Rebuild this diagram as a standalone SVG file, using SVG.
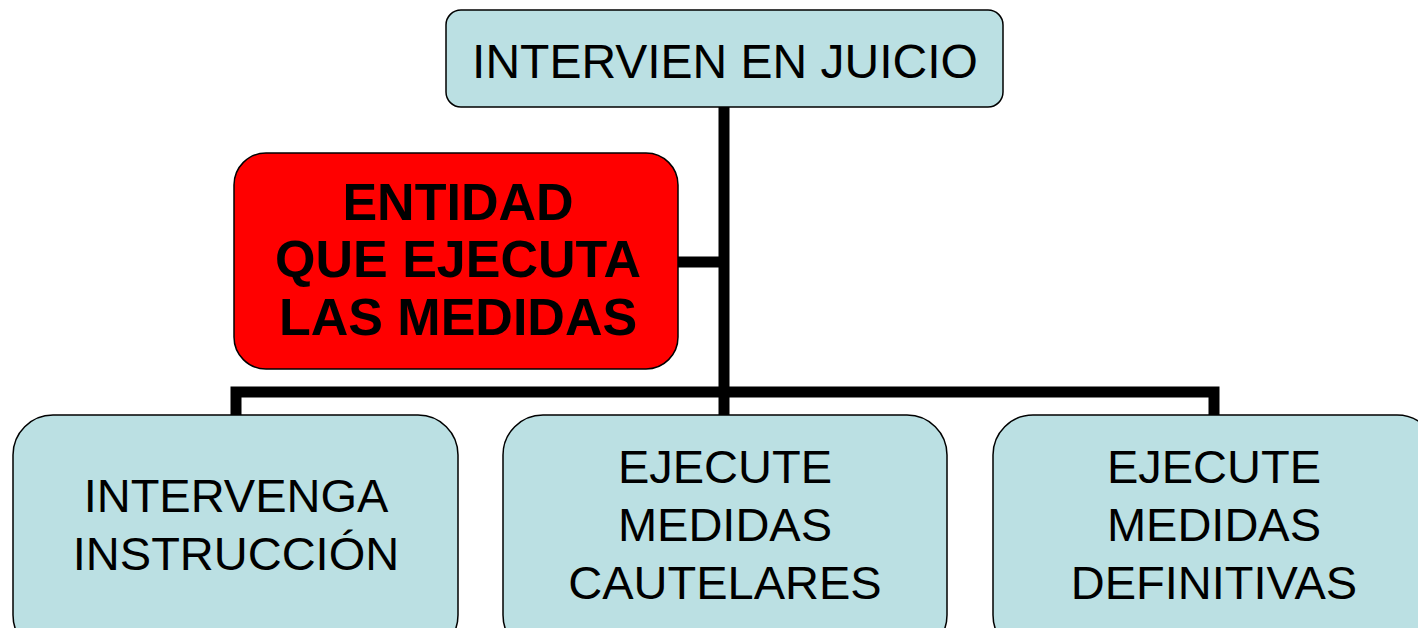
<svg xmlns="http://www.w3.org/2000/svg" width="1418" height="628" viewBox="0 0 1418 628">
<style>
.box{fill:#BBE0E3;stroke:#000;stroke-width:1.5}
.red{fill:#FF0000;stroke:#000;stroke-width:1.5}
.t{font-family:"Liberation Sans",Arial,sans-serif;font-size:47px;fill:#000;text-anchor:middle}
.tb{font-family:"Liberation Sans",Arial,sans-serif;font-size:52px;font-weight:bold;fill:#000;text-anchor:middle}
.c{fill:none;stroke:#000;stroke-width:11;stroke-linejoin:miter}
</style>
<rect width="1418" height="628" fill="#fff"/>
<g id="connectors">
<path class="c" d="M724,107 V392"/>
<path class="c" d="M678,262 H724"/>
<path class="c" d="M236,415 V392 H1214 V415"/>
<path class="c" d="M724,392 V415"/>
</g>
<g id="n-top">
<rect class="box" x="446" y="10" width="557" height="97" rx="15"/>
<text class="t" x="725" y="78" style="font-size:48px">INTERVIEN EN JUICIO</text>
</g>
<g id="n-entidad">
<rect class="red" x="234" y="153" width="444" height="216" rx="32"/>
<text class="tb" x="458" y="220">ENTIDAD</text>
<text class="tb" x="458" y="277">QUE EJECUTA</text>
<text class="tb" x="458" y="335">LAS MEDIDAS</text>
</g>
<g id="n-instruccion">
<rect class="box" x="13" y="415" width="445" height="240" rx="40"/>
<text class="t" x="236" y="512">INTERVENGA</text>
<text class="t" x="236" y="570">INSTRUCCIÓN</text>
</g>
<g id="n-cautelares">
<rect class="box" x="503" y="415" width="444" height="240" rx="40"/>
<text class="t" x="725" y="483">EJECUTE</text>
<text class="t" x="725" y="541">MEDIDAS</text>
<text class="t" x="725" y="599">CAUTELARES</text>
</g>
<g id="n-definitivas">
<rect class="box" x="993" y="415" width="444" height="240" rx="40"/>
<text class="t" x="1214" y="483">EJECUTE</text>
<text class="t" x="1214" y="541">MEDIDAS</text>
<text class="t" x="1214" y="599">DEFINITIVAS</text>
</g>
</svg>
